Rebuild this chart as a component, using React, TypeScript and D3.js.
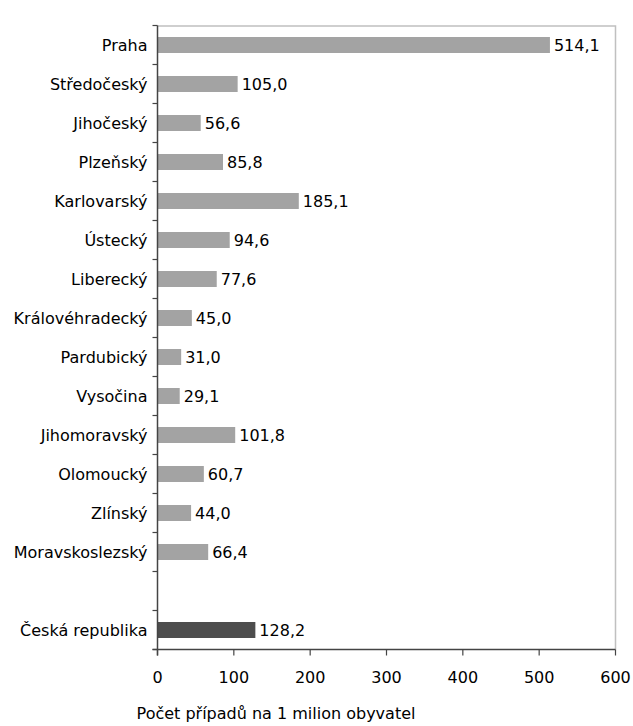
import React, { useRef, useEffect } from "react";
import * as d3 from "d3";

const regions = [
  "Praha",
  "Středočeský",
  "Jihočeský",
  "Plzeňský",
  "Karlovarský",
  "Ústecký",
  "Liberecký",
  "Královéhradecký",
  "Pardubický",
  "Vysočina",
  "Jihomoravský",
  "Olomoucký",
  "Zlínský",
  "Moravskoslezský",
  "",
  "Česká republika",
];
const values = [514.1, 105.0, 56.6, 85.8, 185.1, 94.6, 77.6, 45.0, 31.0, 29.1, 101.8, 60.7, 44.0, 66.4, null, 128.2];
const xTicks = [0, 100, 200, 300, 400, 500, 600];
const xTitle = "Počet případů na 1 milion obyvatel";

const App = () => {
  const ref = useRef<SVGSVGElement>(null);
  const width = 633;
  const height = 726;
  const margin = { top: 25.5, right: 17.5, bottom: 76.5, left: 157.5 };

  useEffect(() => {
    const svg = d3.select(ref.current);
    svg.selectAll("*").remove();
    const font = "'DejaVu Sans', sans-serif";
    const fs = 16;

    const innerW = width - margin.left - margin.right;
    const innerH = height - margin.top - margin.bottom;

    const x = d3.scaleLinear().domain([0, 600]).range([0, innerW]);
    const keys = regions.map((d, i) => String(i));
    const y = d3.scaleBand().domain(keys).range([0, innerH]).paddingInner(0.59).paddingOuter(0.295);
    const yBand = d3.scaleBand().domain(keys).range([0, innerH]);

    const g = svg.append("g").attr("transform", `translate(${margin.left},${margin.top})`);

    // plot border (top & right)
    g.append("path")
      .attr("d", `M0,0.5H${innerW}V${innerH}`)
      .attr("fill", "none")
      .attr("stroke", "#c0c0c0")
      .attr("stroke-width", 1.5);

    // bars
    const rows = regions.map((r, i) => ({ r, v: values[i], k: String(i) }));
    g.selectAll(".bar")
      .data(rows.filter((d) => d.v !== null))
      .enter()
      .append("rect")
      .attr("x", 0)
      .attr("y", (d) => y(d.k)!)
      .attr("width", (d) => x(d.v as number))
      .attr("height", y.bandwidth())
      .attr("fill", (d) => (d.r === "Česká republika" ? "#4d4d4d" : "#a3a3a3"));

    // value labels
    g.selectAll(".val")
      .data(rows.filter((d) => d.v !== null))
      .enter()
      .append("text")
      .attr("x", (d) => x(d.v as number) + 4)
      .attr("y", (d) => y(d.k)! + y.bandwidth() / 2)
      .attr("dy", "0.35em")
      .attr("font-family", font)
      .attr("font-size", fs)
      .attr("fill", "#000")
      .text((d) => (d.v as number).toFixed(1).replace(".", ","));

    // y axis
    const yAxis = g.append("g");
    yAxis.append("line")
      .attr("x1", 0).attr("x2", 0).attr("y1", 0).attr("y2", innerH + 6)
      .attr("stroke", "#444").attr("stroke-width", 1.5);
    const boundaries = keys.map((k) => yBand(k)!).concat([innerH]);
    yAxis.selectAll(".yt")
      .data(boundaries)
      .enter()
      .append("line")
      .attr("x1", -5).attr("x2", 0)
      .attr("y1", (d) => d).attr("y2", (d) => d)
      .attr("stroke", "#444").attr("stroke-width", 1.2);
    yAxis.selectAll(".yl")
      .data(rows)
      .enter()
      .append("text")
      .attr("x", -10)
      .attr("y", (d) => yBand(d.k)! + yBand.bandwidth() / 2)
      .attr("dy", "0.35em")
      .attr("text-anchor", "end")
      .attr("font-family", font)
      .attr("font-size", fs)
      .attr("fill", "#000")
      .text((d) => d.r);

    // x axis
    const xAxis = g.append("g").attr("transform", `translate(0,${innerH})`);
    xAxis.append("line")
      .attr("x1", -5).attr("x2", innerW)
      .attr("stroke", "#444").attr("stroke-width", 1.5);
    xAxis.selectAll(".xt")
      .data(xTicks)
      .enter()
      .append("line")
      .attr("x1", (d) => x(d)).attr("x2", (d) => x(d))
      .attr("y1", 0).attr("y2", 6)
      .attr("stroke", "#444").attr("stroke-width", 1.2);
    xAxis.selectAll(".xl")
      .data(xTicks)
      .enter()
      .append("text")
      .attr("x", (d) => x(d))
      .attr("y", 28)
      .attr("dy", "0.35em")
      .attr("text-anchor", "middle")
      .attr("font-family", font)
      .attr("font-size", fs)
      .attr("fill", "#000")
      .text((d) => String(d));

    svg.append("text")
      .attr("x", 276)
      .attr("y", 713)
      .attr("dy", "0.35em")
      .attr("text-anchor", "middle")
      .attr("font-family", font)
      .attr("font-size", fs)
      .attr("fill", "#000")
      .text(xTitle);
  }, []);

  return (
    <svg
      ref={ref}
      width={width}
      height={height}
      style={{ position: "absolute", left: 0, top: 0, background: "#fff" }}
    />
  );
};

export default App;
